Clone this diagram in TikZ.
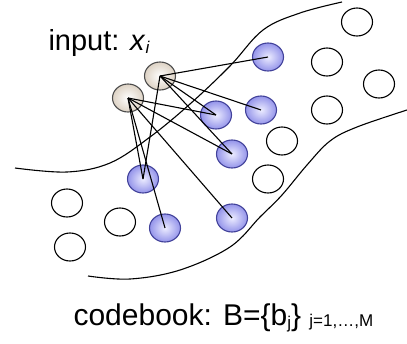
\documentclass[tikz,border=0pt]{standalone}
\usepackage{fontspec}
\setmainfont{Liberation Sans}
\usepackage{xcolor}
\usepackage{tikz}
\usetikzlibrary{shapes.geometric}

\definecolor{beige}{HTML}{DDD2C4}
\definecolor{atomlight}{HTML}{ECECFF}
\definecolor{atomdark}{HTML}{9494EA}
\definecolor{atomedge}{HTML}{42429A}

\newcommand{\lowsub}[2][3pt]{\raisebox{-#1}{\fontsize{17}{18}\selectfont #2}}

\begin{document}
\begin{tikzpicture}[
    x = 1pt, y = -1pt, % one unit per pixel, y going down
    line width = 1.1pt, % line style
    font = \fontsize{30}{34}\selectfont
]
\tikzstyle{ring}=[
    ellipse,
    draw = black,
    line width = 1.1pt,
    minimum width = 31pt,
    minimum height = 28pt,
    inner sep = 0pt
]
\tikzstyle{sample}=[ring, draw = black!70, inner color = white, outer color = beige]
\tikzstyle{atom}=[ring, draw = atomedge, inner color = atomlight, outer color = atomdark]
\tikzstyle{spare}=[ring, fill = white]

\useasboundingbox (0,0) rectangle (407,343);

% manifold boundaries
\draw plot[smooth, tension=0.6] coordinates {(15,168) (67,172) (110,163) (150,137) (190,104) (230,66) (263,30) (300,13) (342,2)};
\draw plot[smooth, tension=0.6] coordinates {(88,276) (130,279) (180,270) (230,247) (260,217) (282,195) (307,165) (330,141) (357,127) (407,110)};

% unused codewords
\node[spare] (w1) at (357,22) {};
\node[spare] (w2) at (327,62) {};
\node[spare] (w3) at (379,84) {};
\node[spare] (w4) at (327,110) {};
\node[spare] (w5) at (282,141) {};
\node[spare] (w6) at (268,179) {};
\node[spare] (w7) at (67,203) {};
\node[spare] (w8) at (120,222) {};
\node[spare] (w9) at (70,247) {};

% codewords in use
\node[atom] (b1) at (268,57) {};
\node[atom] (b2) at (261,110) {};
\node[atom] (b3) at (216,115) {};
\node[atom] (b4) at (232,154) {};
\node[atom] (b5) at (143,179) {};
\node[atom] (b6) at (165,228) {};
\node[atom] (b7) at (232,218) {};

% inputs
\node[sample] (x1) at (128,98) {};
\node[sample] (x2) at (160,76) {};

\path (x1.center) edge (b3.center);
\path (x1.center) edge (b4.center);
\path (x1.center) edge (b5.center);
\path (x1.center) edge (b6.center);
\path (x1.center) edge (b7.center);

\path (x2.center) edge (b1.center);
\path (x2.center) edge (b2.center);
\path (x2.center) edge (b3.center);
\path (x2.center) edge (b4.center);
\path (x2.center) edge (b5.center);

\node[anchor=base west, inner sep=0pt, font=\fontsize{29}{32}\selectfont] (inp) at (48,50) {input: \textit{x}\lowsub{\textit{i}}};
\node[anchor=base west, inner sep=0pt] (cb) at (73,325) {codebook: B=\{b\lowsub{j}\} \lowsub[1pt]{j=1,…,M}};

\end{tikzpicture}
\end{document}
